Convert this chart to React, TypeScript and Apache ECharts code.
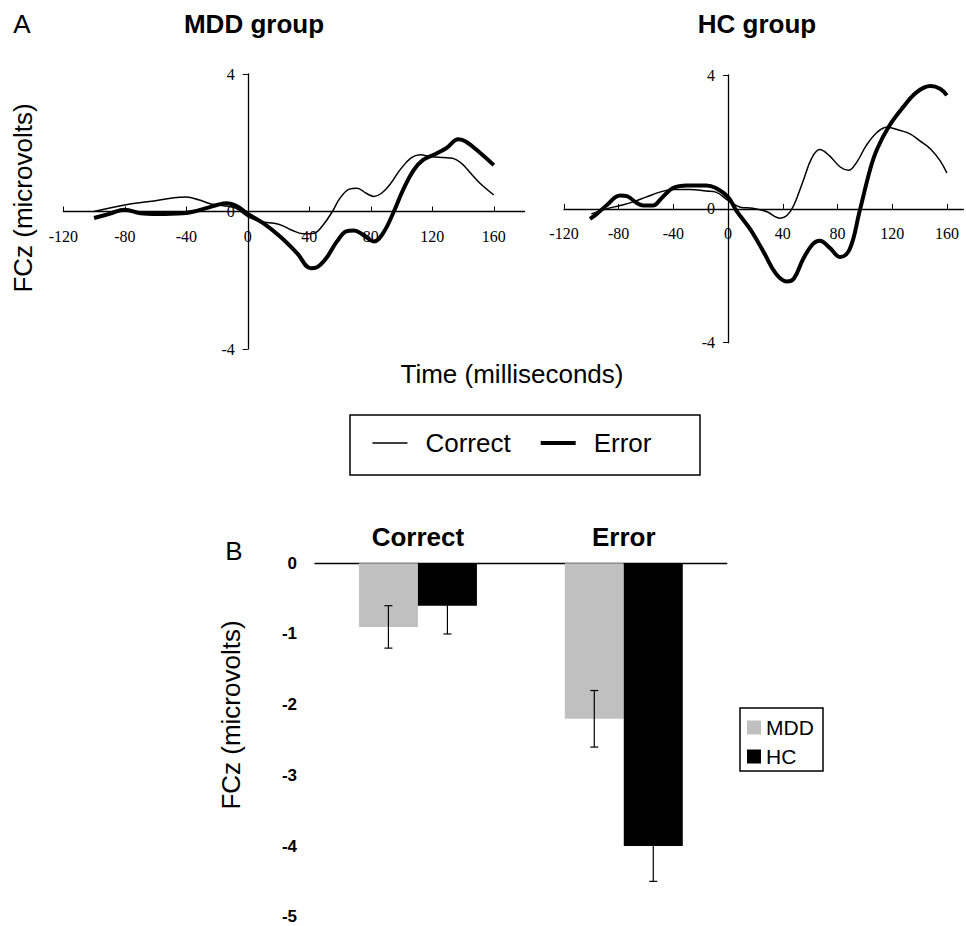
import React, { useEffect, useRef } from "react";
import * as echarts from "echarts";

// ---- Panel A: ERP waveforms (time in ms, amplitude in microvolts) ----
const mddCorrectT = [-100, -80, -64, -48, -40, -32, -24, -16, -8, 0, 8, 20, 28, 36, 43, 49, 55, 60, 66, 71, 77, 82, 87, 93, 99, 106, 112, 119, 127, 133, 139, 145, 151, 160];
const mddCorrectV = [0, 0.19, 0.29, 0.4, 0.42, 0.34, 0.22, 0.17, 0.1, -0.15, -0.29, -0.37, -0.53, -0.65, -0.63, -0.39, 0, 0.39, 0.65, 0.68, 0.53, 0.44, 0.53, 0.82, 1.21, 1.55, 1.65, 1.6, 1.57, 1.55, 1.4, 1.11, 0.82, 0.48];

const mddErrorT = [-100, -90, -80, -70, -59, -42, -35, -27, -20, -14, -7, 0, 10, 21, 32, 41, 45, 51, 58, 64, 69, 75, 82, 88, 95, 101, 108, 114, 121, 129, 137, 142, 151, 160];
const mddErrorV = [-0.19, -0.07, 0.05, -0.05, -0.07, -0.05, 0, 0.1, 0.19, 0.24, 0.15, -0.07, -0.34, -0.73, -1.21, -1.65, -1.62, -1.36, -0.87, -0.58, -0.55, -0.68, -0.87, -0.63, 0, 0.63, 1.21, 1.5, 1.65, 1.84, 2.1, 2.03, 1.71, 1.35];

const hcCorrectT = [-100, -89, -79, -70, -60, -50, -40, -28, -16, -9, 0, 9, 18, 28, 38, 43, 48, 55, 61, 67, 74, 82, 88, 94, 101, 109, 116, 126, 133, 140, 148, 155, 160];
const hcCorrectV = [-0.15, 0, 0.1, 0.2, 0.35, 0.5, 0.58, 0.58, 0.53, 0.5, 0.25, 0.05, 0.02, -0.08, -0.28, -0.2, 0.1, 0.85, 1.5, 1.77, 1.59, 1.25, 1.15, 1.39, 1.89, 2.29, 2.44, 2.34, 2.24, 2.04, 1.79, 1.44, 1.07];

const hcErrorT = [-101, -96, -89, -79, -74, -67, -62, -55, -48, -40, -30, -16, -9, 0, 6, 16, 26, 35, 43, 48, 55, 62, 67, 74, 82, 89, 96, 104, 109, 118, 128, 138, 148, 155, 160];
const hcErrorV = [-0.3, -0.15, 0.1, 0.4, 0.38, 0.18, 0.1, 0.1, 0.35, 0.63, 0.7, 0.7, 0.62, 0.35, -0.05, -0.6, -1.29, -1.94, -2.17, -2.09, -1.49, -1.05, -0.95, -1.15, -1.44, -1.2, -0.1, 1.2, 1.79, 2.49, 3.04, 3.49, 3.67, 3.59, 3.39];

// ---- Panel B: mean FCz amplitude with error bars ----
const conditions = ["Correct", "Error"];
const mddMeans = [-0.9, -2.2];
const hcMeans = [-0.6, -4.0];
const mddErr = [0.3, 0.4];
const hcErr = [0.4, 0.5];

const pairs = (t: number[], v: number[]) => t.map((x, i) => [x, v[i]]);

const SANS = "'Liberation Sans', Arial, sans-serif";
const SERIF = "'Liberation Serif', 'Times New Roman', serif";
const THIN = 1.5;
const THICK = 4;

export default function App() {
  const ref = useRef<HTMLDivElement>(null);

  useEffect(() => {
    if (!ref.current) return;
    const chart = echarts.init(ref.current, undefined, { renderer: "svg" });

    // grid geometry of the two waveform panels
    const g0 = { left: 63.3, top: 74, width: 461.25, height: 275, xmax: 180 };
    const g1 = { left: 564, top: 75, width: 399.3, height: 267.7, xmax: 172 };

    const lineXAxis = (gridIndex: number, g: any) => ({
      type: "value",
      gridIndex,
      min: -120,
      max: g.xmax,
      interval: 40,
      position: "bottom",
      offset: -g.height / 2,
      splitLine: { show: false },
      axisLine: { onZero: false, lineStyle: { color: "#000", width: 1.3 } },
      axisTick: { inside: true, length: 5, lineStyle: { color: "#000" } },
      axisLabel: { color: "#000", fontFamily: SERIF, fontSize: 16, margin: 17, showMaxLabel: false },
    });
    const lineYAxis = (gridIndex: number, g: any) => ({
      type: "value",
      gridIndex,
      min: -4,
      max: 4,
      interval: 4,
      position: "left",
      offset: -(120 / (g.xmax + 120)) * g.width,
      splitLine: { show: false },
      axisLine: { onZero: false, lineStyle: { color: "#000", width: 1.3 } },
      axisTick: { length: 5, lineStyle: { color: "#000" } },
      axisLabel: { color: "#000", fontFamily: SERIF, fontSize: 16, margin: 13 },
    });

    const errRender = (offset: number) => (params: any, api: any) => {
      const c = api.value(0);
      const m = api.value(1);
      const e = api.value(2);
      const x = api.coord([c, m])[0] + offset;
      const yTop = api.coord([c, m + e])[1];
      const yBot = api.coord([c, m - e])[1];
      const style = { stroke: "#000", lineWidth: 1.2 };
      return {
        type: "group",
        children: [
          { type: "line", shape: { x1: x, y1: yTop, x2: x, y2: yBot }, style },
          { type: "line", shape: { x1: x - 4, y1: yTop, x2: x + 4, y2: yTop }, style },
          { type: "line", shape: { x1: x - 4, y1: yBot, x2: x + 4, y2: yBot }, style },
        ],
      };
    };

    const lineSeries = (name: string, xi: number, data: number[][], width: number) => ({
      type: "line",
      name,
      xAxisIndex: xi,
      yAxisIndex: xi,
      data,
      smooth: 0.4,
      symbol: "none",
      lineStyle: { color: "#000", width },
      itemStyle: { color: "#000" },
    });

    const option: any = {
      animation: false,
      backgroundColor: "#fff",
      textStyle: { fontFamily: SANS },
      grid: [
        { left: g0.left, top: g0.top, width: g0.width, height: g0.height },
        { left: g1.left, top: g1.top, width: g1.width, height: g1.height },
        { left: 315, top: 563.3, width: 411.7, height: 353.4 },
      ],
      xAxis: [
        lineXAxis(0, g0),
        lineXAxis(1, g1),
        {
          type: "category",
          gridIndex: 2,
          position: "top",
          data: conditions,
          axisLine: { onZero: false, lineStyle: { color: "#000", width: 1.3 } },
          axisTick: { inside: true, length: 3, lineStyle: { color: "#000" } },
          axisLabel: { color: "#000", fontFamily: SANS, fontSize: 26, fontWeight: "bold", margin: 13 },
        },
      ],
      yAxis: [
        lineYAxis(0, g0),
        lineYAxis(1, g1),
        {
          type: "value",
          gridIndex: 2,
          min: -5,
          max: 0,
          interval: 1,
          splitLine: { show: false },
          axisLine: { lineStyle: { color: "#000", width: 1.3 } },
          axisTick: { length: 7, lineStyle: { color: "#000" } },
          axisLabel: { color: "#000", fontFamily: SANS, fontSize: 17, fontWeight: "bold", margin: 18 },
        },
      ],
      legend: [
        {
          data: [
            { name: "Correct", lineStyle: { width: THIN, color: "#000" } },
            { name: "Error", lineStyle: { width: THICK, color: "#000" } },
          ],
          left: 371.7,
          top: 430,
          padding: 0,
          itemWidth: 35,
          itemHeight: 14,
          itemGap: 28,
          itemStyle: { color: "transparent", borderColor: "transparent", borderWidth: 0, opacity: 0 },
          textStyle: { color: "#000", fontFamily: SANS, fontSize: 26, padding: [0, 0, 0, 13] },
        },
        {
          data: ["MDD", "HC"],
          orient: "vertical",
          left: 747,
          top: 717,
          padding: 0,
          itemWidth: 14,
          itemHeight: 14,
          itemGap: 8,
          icon: "rect",
          textStyle: { color: "#000", fontFamily: SANS, fontSize: 21 },
        },
      ],
      series: [
        lineSeries("Correct", 0, pairs(mddCorrectT, mddCorrectV), THIN),
        lineSeries("Error", 0, pairs(mddErrorT, mddErrorV), THICK),
        lineSeries("Correct", 1, pairs(hcCorrectT, hcCorrectV), THIN),
        lineSeries("Error", 1, pairs(hcErrorT, hcErrorV), THICK),
        {
          type: "bar",
          name: "MDD",
          xAxisIndex: 2,
          yAxisIndex: 2,
          data: mddMeans,
          barWidth: 59,
          barGap: "0%",
          itemStyle: { color: "#c0c0c0" },
        },
        {
          type: "bar",
          name: "HC",
          xAxisIndex: 2,
          yAxisIndex: 2,
          data: hcMeans,
          barWidth: 59,
          barGap: "0%",
          itemStyle: { color: "#000" },
        },
        {
          type: "custom",
          name: "MDD SE",
          xAxisIndex: 2,
          yAxisIndex: 2,
          z: 5,
          data: mddMeans.map((m, i) => [i, m, mddErr[i]]),
          renderItem: errRender(-29.5),
        },
        {
          type: "custom",
          name: "HC SE",
          xAxisIndex: 2,
          yAxisIndex: 2,
          z: 5,
          data: hcMeans.map((m, i) => [i, m, hcErr[i]]),
          renderItem: errRender(29.5),
        },
      ],
      graphic: [
        { type: "text", x: 22, y: 24, style: { text: "A", fontSize: 26, fontFamily: SANS, fill: "#000", align: "center", verticalAlign: "middle" } },
        { type: "text", x: 254, y: 24, style: { text: "MDD group", fontSize: 26, fontWeight: "bold", fontFamily: SANS, fill: "#000", align: "center", verticalAlign: "middle" } },
        { type: "text", x: 757, y: 24, style: { text: "HC group", fontSize: 26, fontWeight: "bold", fontFamily: SANS, fill: "#000", align: "center", verticalAlign: "middle" } },
        { type: "text", x: 23, y: 198, rotation: Math.PI / 2, style: { text: "FCz (microvolts)", fontSize: 26, fontFamily: SANS, fill: "#000", align: "center", verticalAlign: "middle" } },
        { type: "text", x: 512, y: 374, style: { text: "Time (milliseconds)", fontSize: 26, fontFamily: SANS, fill: "#000", align: "center", verticalAlign: "middle" } },
        { type: "rect", shape: { x: 350, y: 415, width: 350, height: 60 }, style: { fill: "none", stroke: "#000", lineWidth: 1.5 } },
        { type: "text", x: 234, y: 551, style: { text: "B", fontSize: 26, fontFamily: SANS, fill: "#000", align: "center", verticalAlign: "middle" } },
        { type: "text", x: 231, y: 715, rotation: Math.PI / 2, style: { text: "FCz (microvolts)", fontSize: 26, fontFamily: SANS, fill: "#000", align: "center", verticalAlign: "middle" } },
        { type: "rect", shape: { x: 740, y: 708, width: 83, height: 63 }, style: { fill: "none", stroke: "#000", lineWidth: 1.5 } },
      ],
    };

    chart.setOption(option);
    return () => chart.dispose();
  }, []);

  return <div ref={ref} style={{ position: "absolute", left: 0, top: 0, width: 966, height: 926 }} />;
}
